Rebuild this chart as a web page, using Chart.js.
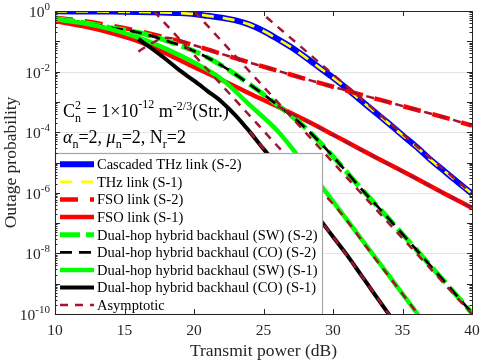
<!DOCTYPE html>
<html lang="en">
<head>
<meta charset="UTF-8" />
<title>Outage probability</title>
<style>
  body { margin: 0; background: #fff; }
  canvas { display: block; }
</style>
</head>
<body>
<canvas id="chart" width="485" height="360"></canvas>
<script src="https://cdn.jsdelivr.net/npm/chart.js"></script>
<script>
// values are log10(outage probability)
const thzX = [10, 14, 17, 19, 20, 21, 22, 23, 24, 25, 26, 27, 28, 29, 30, 31, 32, 33, 34, 35, 36, 37, 38, 39, 40];
const thzY = [-0.01, -0.02, -0.04, -0.07, -0.1, -0.16, -0.22, -0.31, -0.45, -0.66, -0.92, -1.2, -1.52, -1.86, -2.2, -2.56, -2.95, -3.33, -3.71, -4.1, -4.48, -4.9, -5.28, -5.66, -6.03];

const snrX = [10, 12, 14, 16, 18, 20, 22, 24, 26, 28, 30, 32, 34, 36, 38, 40];
const fsoS2Y = [-0.22, -0.33, -0.48, -0.66, -0.88, -1.13, -1.42, -1.7, -1.97, -2.24, -2.5, -2.76, -3.01, -3.26, -3.51, -3.78];
const fsoS1Y = [-0.33, -0.5, -0.72, -1.0, -1.4, -1.85, -2.28, -2.72, -3.15, -3.6, -4.08, -4.57, -5.05, -5.53, -6.02, -6.5];
const dualS2Y = [-0.25, -0.38, -0.55, -0.71, -0.98, -1.32, -1.8, -2.42, -3.1, -3.85, -4.8, -5.85, -6.85, -7.88, -8.92, -9.97];

const swS1X = [10, 12, 14, 16, 18, 20, 22, 24, 26, 27, 28, 29, 30, 32, 34, 36, 38];
const swS1Y = [-0.27, -0.4, -0.6, -0.88, -1.25, -1.7, -2.25, -3.1, -3.95, -4.5, -5.1, -5.68, -6.28, -7.5, -8.72, -9.95, -11.2];

const coS1X = [16, 17, 18, 19, 20, 21, 22, 23, 24, 25, 26, 27, 28, 29, 30, 31, 32, 33, 34, 35];
const coS1Y = [-0.93, -1.25, -1.6, -1.97, -2.3, -2.65, -3.0, -3.45, -3.98, -4.55, -5.1, -5.68, -6.27, -6.85, -7.45, -8.05, -8.7, -9.35, -10.0, -10.65];

// asymptotic curves
const asThzX = [25.2, 40];
const asThzY = [-0.2, -6.03];
const asFsoS2X = [16, 17, 18, 20, 22, 24, 26, 28, 30, 32, 34, 36, 38, 40];
const asFsoS2Y = [-1.34, -1.05, -0.88, -1.13, -1.42, -1.7, -1.97, -2.24, -2.5, -2.76, -3.01, -3.26, -3.51, -3.78];
const asFsoS1X = [26, 40];
const asFsoS1Y = [-3.14, -6.5];
const asDualS2X = [20, 40];
const asDualS2Y = [0, -10];
const asSwS1X = [17.1, 20, 22, 24.5, 27.3, 30.35, 33, 36.1, 37];
const asSwS1Y = [0, -1.45, -2.45, -3.7, -5.1, -6.55, -8.15, -10, -10.55];
const asCoS1X = [24, 26, 28, 30, 32, 34, 35];
const asCoS1Y = [-3.98, -5.1, -6.27, -7.45, -8.7, -10.0, -10.65];

const xTicks = [10, 15, 20, 25, 30, 35, 40];
const yTickExps = [0, -2, -4, -6, -8, -10];

const SERIF = "'Liberation Serif', 'Times New Roman', serif";
const MAROON = '#A2142F';

let n = 0;
function series(label, xs, ys, color, width, dash, skipLegend) {
    n++;
    return {
        label: label,
        data: xs.map((x, i) => ({x: x, y: Math.pow(10, ys[i])})),
        borderColor: color,
        borderWidth: width,
        borderDash: dash,
        borderCapStyle: 'butt',
        pointRadius: 0,
        fill: false,
        cubicInterpolationMode: 'monotone',
        order: 100 - n,
        skipLegend: !!skipLegend
    };
}

const datasets = [
    series('Cascaded THz link (S-2)', thzX, thzY, '#0000FF', 6, []),
    series('THz link (S-1)', thzX, thzY, '#FFFF00', 2.7, [12, 9]),
    series('FSO link (S-2)', snrX, fsoS2Y, '#FF0000', 4.5, [18, 12]),
    series('FSO link (S-1)', snrX, fsoS1Y, '#FF0000', 4.5, []),
    series('Dual-hop hybrid backhaul (SW) (S-2)', snrX, dualS2Y, '#00FF00', 5, [20, 6]),
    series('Dual-hop hybrid backhaul (CO) (S-2)', snrX, dualS2Y, '#000000', 2.7, [12, 7]),
    series('Dual-hop hybrid backhaul (SW) (S-1)', swS1X, swS1Y, '#00FF00', 4.5, []),
    series('Dual-hop hybrid backhaul (CO) (S-1)', coS1X, coS1Y, '#000000', 4, []),
    series('Asymptotic', asThzX, asThzY, MAROON, 2.5, [8, 7]),
    series('Asymptotic', asFsoS2X, asFsoS2Y, MAROON, 2.5, [8, 7], true),
    series('Asymptotic', asFsoS1X, asFsoS1Y, MAROON, 2.5, [8, 7], true),
    series('Asymptotic', asDualS2X, asDualS2Y, MAROON, 2.5, [8, 7], true),
    series('Asymptotic', asSwS1X, asSwS1Y, MAROON, 2.5, [8, 7], true),
    series('Asymptotic', asCoS1X, asCoS1Y, MAROON, 2.5, [8, 7], true)
];

function font(size, italic) {
    return (italic ? 'italic ' : '') + size + 'px ' + SERIF;
}

// draw a run of text pieces; {t, s, dy, it} or stacked {sub, sup}
function rich(ctx, x, y, parts) {
    ctx.textBaseline = 'alphabetic';
    ctx.textAlign = 'left';
    parts.forEach(p => {
        if (p.sub !== undefined) {
            ctx.font = font(12);
            const w1 = ctx.measureText(p.sub).width;
            const w2 = ctx.measureText(p.sup).width;
            ctx.fillText(p.sub, x, y + 5);
            ctx.fillText(p.sup, x, y - 8);
            x += Math.max(w1, w2) + 1;
            return;
        }
        ctx.font = font(p.s, p.it);
        ctx.fillText(p.t, x, y + (p.dy || 0));
        x += ctx.measureText(p.t).width;
    });
}

const deco = {
    id: 'deco',
    beforeDraw(chart) {
        const ctx = chart.ctx;
        ctx.save();
        ctx.fillStyle = '#fff';
        ctx.fillRect(0, 0, chart.width, chart.height);
        ctx.restore();
    },
    beforeDatasetsDraw(chart) {
        const {ctx, chartArea: a, scales: {y}} = chart;
        ctx.save();
        ctx.strokeStyle = '#e4e4e4';
        ctx.lineWidth = 1;
        yTickExps.forEach(e => {
            if (e === 0 || e === -10) return;
            const py = Math.round(y.getPixelForValue(Math.pow(10, e))) + 0.5;
            ctx.beginPath();
            ctx.moveTo(a.left, py);
            ctx.lineTo(a.right, py);
            ctx.stroke();
        });
        ctx.restore();
    },
    afterDatasetsDraw(chart) {
        const {ctx, chartArea: a, scales: {x, y}} = chart;
        ctx.save();

        // annotation text
        ctx.fillStyle = '#000';
        rich(ctx, 63, 117, [
            {t: 'C', s: 18},
            {sub: 'n', sup: '2'},
            {t: ' = 1\u00d710', s: 18},
            {t: '-12', s: 12, dy: -9},
            {t: ' m', s: 18},
            {t: '-2/3', s: 12, dy: -7},
            {t: '(Str.)', s: 18}
        ]);
        rich(ctx, 63, 143, [
            {t: '\u03b1', s: 18, it: true},
            {t: 'n', s: 12, dy: 5},
            {t: '=2, ', s: 18},
            {t: '\u03bc', s: 18, it: true},
            {t: 'n', s: 12, dy: 5},
            {t: '=2, N', s: 18},
            {t: 'r', s: 12, dy: 5},
            {t: '=2', s: 18}
        ]);

        // legend box
        const lx0 = a.left, lx1 = 322, ly0 = 153, ly1 = a.bottom;
        ctx.fillStyle = '#fff';
        ctx.fillRect(lx0, ly0, lx1 - lx0, ly1 - ly0);
        ctx.strokeStyle = '#a6a6a6';
        ctx.lineWidth = 1.2;
        ctx.strokeRect(lx0 + 0.5, ly0 + 0.5, lx1 - lx0, ly1 - ly0);
        let row = 0;
        chart.data.datasets.forEach(ds => {
            if (ds.skipLegend) return;
            const cy = 164.3 + row * 17.6;
            ctx.beginPath();
            ctx.setLineDash(ds.borderDash);
            ctx.lineCap = 'butt';
            ctx.strokeStyle = ds.borderColor;
            ctx.lineWidth = ds.borderWidth;
            ctx.moveTo(60, cy);
            ctx.lineTo(94, cy);
            ctx.stroke();
            ctx.setLineDash([]);
            ctx.fillStyle = '#000';
            ctx.font = font(14.5);
            ctx.textBaseline = 'middle';
            ctx.textAlign = 'left';
            ctx.fillText(ds.label, 97, cy + 1);
            row++;
        });

        // axes box and ticks
        ctx.strokeStyle = '#262626';
        ctx.lineWidth = 1;
        ctx.strokeRect(a.left + 0.5, a.top + 0.5, a.right - a.left, a.bottom - a.top);
        ctx.beginPath();
        xTicks.forEach(v => {
            const px = Math.round(x.getPixelForValue(v)) + 0.5;
            ctx.moveTo(px, a.bottom); ctx.lineTo(px, a.bottom - 5);
            ctx.moveTo(px, a.top); ctx.lineTo(px, a.top + 5);
        });
        for (let e = 0; e >= -10; e--) {
            const py = Math.round(y.getPixelForValue(Math.pow(10, e))) + 0.5;
            ctx.moveTo(a.left, py); ctx.lineTo(a.left + 5, py);
            ctx.moveTo(a.right, py); ctx.lineTo(a.right - 5, py);
            if (e === -10) continue;
            for (let k = 2; k <= 9; k++) {
                const pm = Math.round(y.getPixelForValue(k * Math.pow(10, e - 1))) + 0.5;
                ctx.moveTo(a.left, pm); ctx.lineTo(a.left + 2.5, pm);
                ctx.moveTo(a.right, pm); ctx.lineTo(a.right - 2.5, pm);
            }
        }
        ctx.stroke();

        // tick labels
        ctx.fillStyle = '#262626';
        ctx.textBaseline = 'middle';
        ctx.textAlign = 'center';
        ctx.font = font(15.5);
        xTicks.forEach(v => ctx.fillText(String(v), x.getPixelForValue(v), a.bottom + 17));
        yTickExps.forEach(e => {
            const py = y.getPixelForValue(Math.pow(10, e));
            const sup = String(e);
            ctx.font = font(11);
            const ws = ctx.measureText(sup).width;
            ctx.font = font(15.5);
            const wb = ctx.measureText('10').width;
            ctx.textAlign = 'left';
            ctx.textBaseline = 'alphabetic';
            ctx.fillText('10', 50 - ws - wb, py + 6);
            ctx.font = font(11);
            ctx.fillText(sup, 50 - ws, py - 1);
        });

        // axis titles
        ctx.fillStyle = '#262626';
        ctx.font = font(17.5);
        ctx.textAlign = 'center';
        ctx.textBaseline = 'middle';
        ctx.fillText('Transmit power (dB)', (a.left + a.right) / 2, 351);
        ctx.translate(11, (a.top + a.bottom) / 2);
        ctx.rotate(-Math.PI / 2);
        ctx.fillText('Outage probability', 0, 0);
        ctx.restore();
    }
};

new Chart(document.getElementById('chart').getContext('2d'), {
    type: 'line',
    data: {datasets: datasets},
    options: {
        responsive: false,
        animation: false,
        layout: {padding: {left: 55, right: 13, top: 11, bottom: 46}},
        plugins: {legend: {display: false}, tooltip: {enabled: false}},
        scales: {
            x: {type: 'linear', min: 10, max: 40, display: false},
            y: {type: 'logarithmic', min: 1e-10, max: 1, display: false}
        }
    },
    plugins: [deco]
});
</script>
</body>
</html>
